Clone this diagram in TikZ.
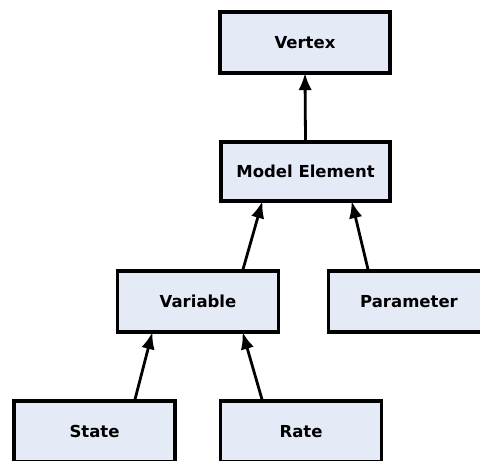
\documentclass[tikz,border=0pt]{standalone}
\usepackage{fontspec}
\setmainfont{DejaVu Sans}
\usetikzlibrary{arrows.meta}
\definecolor{boxfill}{RGB}{229,235,246}
\tikzset{
  cls/.style={draw=black, line width=3.2bp, fill=boxfill, rectangle,
    minimum width=161bp, minimum height=61bp, inner sep=0pt,
    font=\fontsize{16.5bp}{19bp}\selectfont\bfseries, text=black},
  inh/.style={line width=2.8bp, -{Latex[length=17bp,width=13.5bp]}, shorten >=-1.5bp}
}
\begin{document}
\begin{tikzpicture}[x=1bp,y=1bp]
\useasboundingbox (0,0) rectangle (480,461);
\clip (0,0) rectangle (480,461);
\node[cls, minimum width=170bp] (vertex) at (305,418.5) {Vertex};
\node[cls, minimum width=169bp, minimum height=59bp] (me) at (305.5,289.5) {Model Element};
\node[cls] (var) at (198,159.5) {Variable};
\node[cls] (par) at (409,159.5) {Parameter};
\node[cls] (state) at (94.5,29.5) {State};
\node[cls] (rate) at (301,29.5) {Rate};
\draw[inh] (me.north) -- (vertex.south);
\draw[inh] ([xshift=45bp]var.north) -- ([xshift=-43.5bp]me.south);
\draw[inh] ([xshift=-41bp]par.north) -- ([xshift=46.5bp]me.south);
\draw[inh] ([xshift=40.5bp]state.north) -- ([xshift=-46bp]var.south);
\draw[inh] ([xshift=-39bp]rate.north) -- ([xshift=45bp]var.south);
\end{tikzpicture}
\end{document}
